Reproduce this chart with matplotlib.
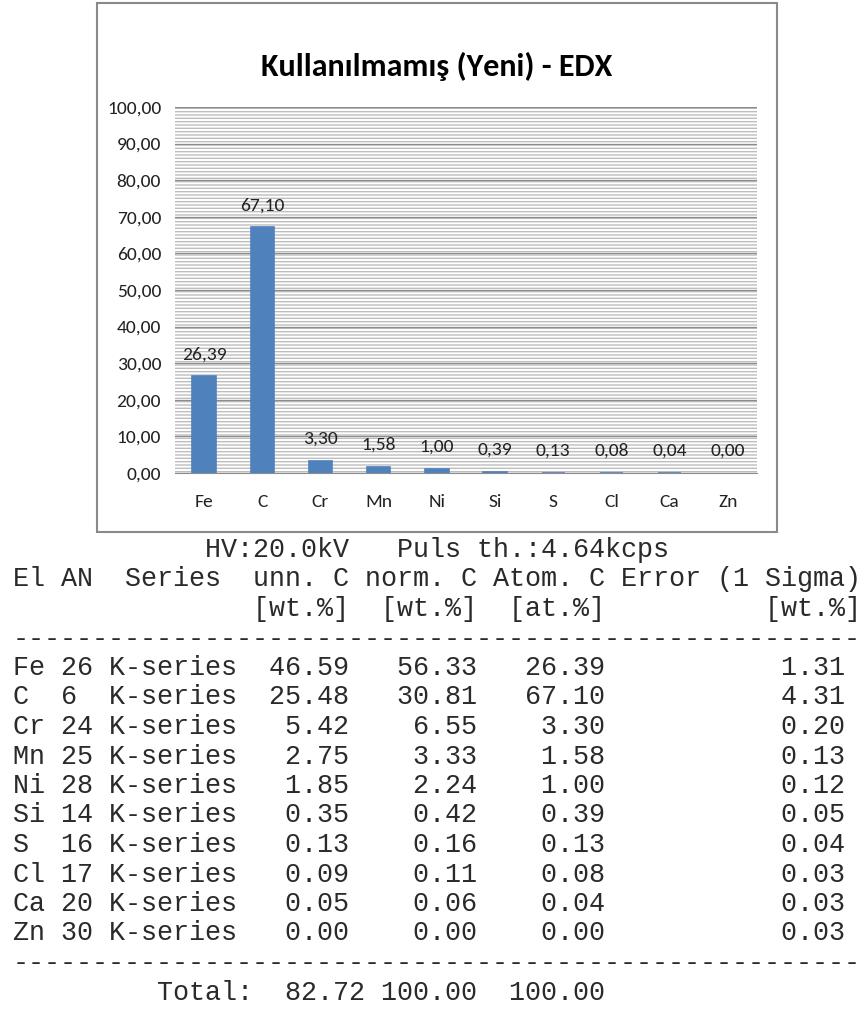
import matplotlib
matplotlib.use("Agg")
import matplotlib.pyplot as plt
from matplotlib import font_manager
from matplotlib.patches import Rectangle

# EDX results (unused / new sample)
elements = ["Fe", "C", "Cr", "Mn", "Ni", "Si", "S", "Cl", "Ca", "Zn"]
atomic_nr = [26, 6, 24, 25, 28, 14, 16, 17, 20, 30]
unn_c = [46.59, 25.48, 5.42, 2.75, 1.85, 0.35, 0.13, 0.09, 0.05, 0.00]
norm_c = [56.33, 30.81, 6.55, 3.33, 2.24, 0.42, 0.16, 0.11, 0.06, 0.00]
atom_c = [26.39, 67.10, 3.30, 1.58, 1.00, 0.39, 0.13, 0.08, 0.04, 0.00]
error_1s = [1.31, 4.31, 0.20, 0.13, 0.12, 0.05, 0.04, 0.03, 0.03, 0.03]
totals = [82.72, 100.00, 100.00]
y_ticks = [0, 10, 20, 30, 40, 50, 60, 70, 80, 90, 100]

title = "Kullanılmamış (Yeni) - EDX"


def pick(*names):
    for n in names:
        try:
            font_manager.findfont(n, fallback_to_default=False)
            return n
        except ValueError:
            pass
    return "DejaVu Sans"


# something close to Calibri if we can find it
sans = pick("Carlito", "Liberation Sans Narrow", "Roboto Condensed", "Roboto", "Liberation Sans")
narrow = [sans, "DejaVu Sans"]
mono = ["Liberation Mono", "DejaVu Sans Mono"]
lab_fs = 14
title_fs = 23

W, H = 867, 1018
fig = plt.figure(figsize=(W / 100, H / 100), dpi=100)

def fx(px):
    return px / W

def fy(px):
    return 1 - px / H

# outer chart frame
fig.add_artist(Rectangle((fx(97), fy(532)), fx(777) - fx(97), fy(3) - fy(532),
                         transform=fig.transFigure, fill=False,
                         edgecolor="#8a8a8a", lw=1.5))

fig.text(fx(437), fy(66), title, family=narrow, fontweight="bold",
         fontsize=title_fs, ha="center", va="center", color="black")

ax = fig.add_axes([fx(175), fy(473), fx(757) - fx(175), fy(107) - fy(473)])
ax.set_facecolor("white")
plt.rcParams["hatch.linewidth"] = 1.0
ax.add_patch(Rectangle((0, 0), 1, 1, transform=ax.transAxes, facecolor="white",
                       edgecolor="#bdbdbd", hatch="-----", lw=0, zorder=0))

x = range(len(elements))
edges = ["#4f81bd" if v > 0 else "none" for v in atom_c]
ax.bar(x, atom_c, width=0.4, color="#4f81bd", edgecolor=edges, lw=1.2, zorder=2)
for i, v in enumerate(atom_c):
    ax.annotate(f"{v:.2f}".replace(".", ","), (i, v), xytext=(0, 16),
                textcoords="offset points", ha="center", va="center",
                family=narrow, fontsize=lab_fs, color="#222222")

ax.set_xlim(-0.5, len(elements) - 0.5)
ax.set_ylim(0, 100)
ax.set_yticks(y_ticks)
ax.set_yticklabels([f"{t:.2f}".replace(".", ",") for t in y_ticks],
                   family=narrow, fontsize=lab_fs, color="#222222")
ax.set_xticks(list(x))
ax.set_xticklabels(elements, family=narrow, fontsize=lab_fs, color="#222222")
ax.tick_params(axis="both", length=0)
ax.tick_params(axis="y", pad=10)
ax.tick_params(axis="x", pad=15)
ax.set_axisbelow(True)
ax.yaxis.grid(True, color="#8c8c8c", lw=0.9)
for s in ["left", "right", "top"]:
    ax.spines[s].set_visible(False)
ax.spines["bottom"].set_color("#8c8c8c")

# text report under the chart
lines = []
lines.append(" " * 12 + "HV:20.0kV   Puls th.:4.64kcps")
lines.append("El AN  Series  unn. C norm. C Atom. C Error (1 Sigma)")
lines.append(" " * 15 + "[wt.%]  [wt.%]  [at.%]          [wt.%]")
lines.append("-" * 53)
for el, an, u, n, a, e in zip(elements, atomic_nr, unn_c, norm_c, atom_c, error_1s):
    lines.append(f"{el:<2} {an:<2} K-series  {u:5.2f}   {n:5.2f}   {a:5.2f}{e:15.2f}")
lines.append("-" * 53)
lines.append(" " * 9 + f"Total:  {totals[0]:5.2f} {totals[1]:6.2f}  {totals[2]:6.2f}")

for k, ln in enumerate(lines):
    fig.text(fx(13), fy(550 + k * 29.5), ln, family=mono, fontsize=19.3,
             ha="left", va="center", color="#2a2a2a")

fig.savefig("out.png", dpi=100)
